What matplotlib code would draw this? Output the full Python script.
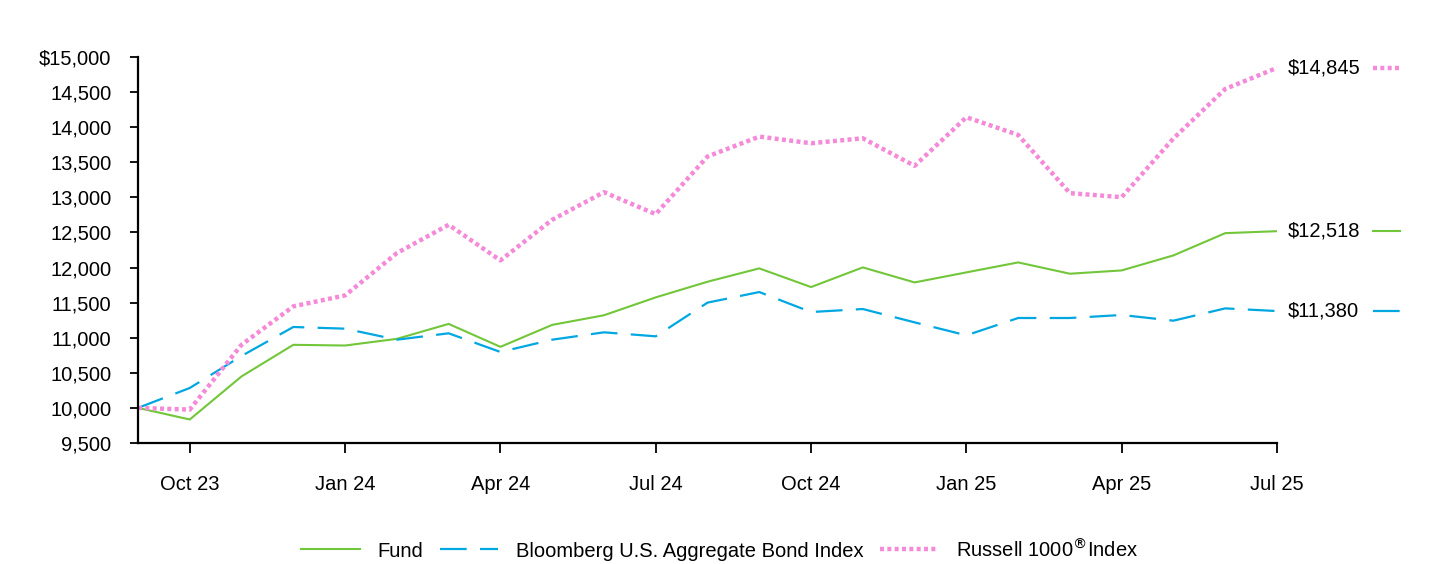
import matplotlib
matplotlib.use("Agg")
import matplotlib.pyplot as plt
from matplotlib.lines import Line2D
from matplotlib.ticker import FuncFormatter

plt.rcParams['font.family'] = ['Liberation Sans', 'DejaVu Sans']

# monthly values, Sep 23 .. Jul 25
months = ['Sep 23', 'Oct 23', 'Nov 23', 'Dec 23', 'Jan 24', 'Feb 24', 'Mar 24', 'Apr 24',
          'May 24', 'Jun 24', 'Jul 24', 'Aug 24', 'Sep 24', 'Oct 24', 'Nov 24', 'Dec 24',
          'Jan 25', 'Feb 25', 'Mar 25', 'Apr 25', 'May 25', 'Jun 25', 'Jul 25']
fund = [10000, 9835, 10449, 10899, 10889, 10984, 11197, 10870, 11183, 11320, 11575, 11798,
        11988, 11722, 12002, 11788, 11931, 12073, 11912, 11959, 12173, 12490, 12518]
bond = [10000, 10284, 10740, 11153, 11129, 10972, 11063, 10797, 10972, 11077, 11020, 11500,
        11651, 11366, 11409, 11219, 11034, 11281, 11281, 11324, 11243, 11418, 11380]
russell = [10000, 9976, 10900, 11447, 11603, 12206, 12609, 12102, 12681, 13074, 12761, 13582,
           13866, 13771, 13842, 13449, 14142, 13890, 13060, 13003, 13840, 14545, 14845]
tick_labels = ['Oct 23', 'Jan 24', 'Apr 24', 'Jul 24', 'Oct 24', 'Jan 25', 'Apr 25', 'Jul 25']

green = '#72C63A'
blue = '#00A7E1'
pink = '#F58AD9'

x = list(range(len(months)))
series = [
    ('Fund', fund, dict(color=green, lw=1.5, linestyle='-')),
    ('Bloomberg U.S. Aggregate Bond Index', bond, dict(color=blue, lw=1.6, linestyle=(0, (12, 6)))),
    ('Russell 1000$^{\u00ae}$Index', russell, dict(color=pink, lw=3.2, linestyle=(0, (0.9, 0.75)))),
]

fig = plt.figure(figsize=(14.4, 5.64), dpi=100)
ax = fig.add_axes([138 / 1440, 1 - 443 / 564, (1277 - 138) / 1440, (443 - 57) / 564])

for name, vals, style in series:
    ax.plot(x, vals, label=name, **style)

ax.set_xlim(0, len(months) - 1)
ax.set_ylim(9500, 15000)
ax.set_yticks(range(9500, 15001, 500))
ax.yaxis.set_major_formatter(FuncFormatter(lambda v, p: f'${v:,.0f}' if v == 15000 else f'{v:,.0f}'))
ax.set_xticks([months.index(m) for m in tick_labels])
ax.set_xticklabels(tick_labels)

for s in ['top', 'right']:
    ax.spines[s].set_visible(False)
for s in ['left', 'bottom']:
    ax.spines[s].set_linewidth(1.6)
ax.tick_params(axis='x', direction='out', length=7, width=1.3, pad=16, labelsize=14.5)
ax.tick_params(axis='y', direction='out', length=6, width=1.3, pad=13, labelsize=14.5)

# end labels with short line swatches
for name, vals, style in series:
    ax.annotate(f'${vals[-1]:,.0f}', xy=(1, vals[-1]), xycoords=('axes fraction', 'data'),
                xytext=(8, 0), textcoords='offset points', va='center', ha='left',
                fontsize=14.5, annotation_clip=False)
    ln = Line2D([1.084, 1.108], [vals[-1], vals[-1]], transform=ax.get_yaxis_transform(),
                clip_on=False, **style)
    ax.add_line(ln)

fig.legend(loc='lower center', bbox_to_anchor=(0.5, -0.026), ncol=3, frameon=False,
           fontsize=14.5, handlelength=2.9, columnspacing=0.8, handletextpad=0.9)

fig.savefig('out.png', dpi=100)
